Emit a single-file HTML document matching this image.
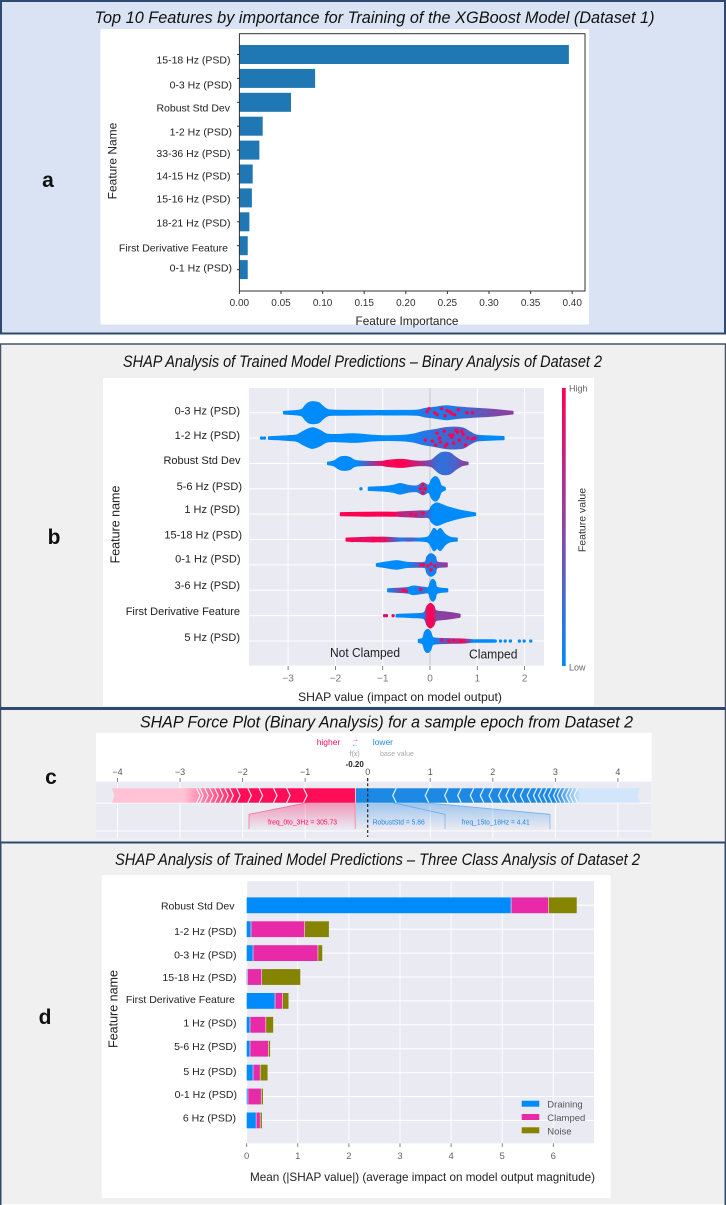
<!DOCTYPE html>
<html>
<head>
<meta charset="utf-8">
<title>XGBoost feature importance and SHAP analysis</title>
<style>
html,body{margin:0;padding:0;background:#fff;}
svg{display:block;filter:blur(0.3px);}
text{font-family:"Liberation Sans",sans-serif;}
.title{font-style:italic;fill:#111;font-size:17px;}
.cat{font-size:10.5px;fill:#222;text-anchor:end;}
.catb{font-size:11px;fill:#222;text-anchor:end;}
.letter{font-weight:bold;font-size:21px;fill:#111;text-anchor:middle;}
.tick{font-size:10px;fill:#666;text-anchor:middle;}
</style>
</head>
<body>
<svg id="figure" xmlns="http://www.w3.org/2000/svg" width="726" height="1205" viewBox="0 0 726 1205">
  <defs>
    <linearGradient id="cbar" x1="0" y1="0" x2="0" y2="1">
      <stop offset="0" stop-color="#ff0051"/><stop offset="0.5" stop-color="#8a46a6"/><stop offset="1" stop-color="#008bfb"/>
    </linearGradient>
    <linearGradient id="pinkFade" x1="0" y1="0" x2="0" y2="1">
      <stop offset="0" stop-color="#ff0d57" stop-opacity="0.38"/><stop offset="1" stop-color="#ff0d57" stop-opacity="0"/>
    </linearGradient>
    <linearGradient id="blueFade" x1="0" y1="0" x2="0" y2="1">
      <stop offset="0" stop-color="#1e88e5" stop-opacity="0.38"/><stop offset="1" stop-color="#1e88e5" stop-opacity="0"/>
    </linearGradient>
  </defs>

  <!-- panel a -->
  <rect x="1" y="1" width="724" height="332.5" fill="#d9e3f4" stroke="#2f4a70" stroke-width="2"/>
  <text class="title" x="94.5" y="23" textLength="560" lengthAdjust="spacingAndGlyphs">Top 10 Features by importance for Training of the XGBoost Model (Dataset 1)</text>
  <text class="letter" x="48" y="187">a</text>
  <rect x="100.5" y="29" width="488.5" height="295.5" fill="#fff"/>
  <g id="chartA"></g>
  <rect x="239.4" y="33.7" width="345.6" height="257.3" fill="none" stroke="#333" stroke-width="1"/>
  <g>
    <text class="cat" x="230.5" y="63.5">15-18 Hz (PSD)</text>
    <text class="cat" x="232" y="88.5">0-3 Hz (PSD)</text>
    <text class="cat" x="230" y="111.5">Robust Std Dev</text>
    <text class="cat" x="232" y="135.5">1-2 Hz (PSD)</text>
    <text class="cat" x="230.5" y="157">33-36 Hz (PSD)</text>
    <text class="cat" x="230.5" y="179.5">14-15 Hz (PSD)</text>
    <text class="cat" x="230.5" y="202.5">15-16 Hz (PSD)</text>
    <text class="cat" x="230.5" y="226.5">18-21 Hz (PSD)</text>
    <text class="cat" x="228" y="251.5">First Derivative Feature</text>
    <text class="cat" x="232" y="271.5">0-1 Hz (PSD)</text>
  </g>
  <text x="407" y="325" font-size="12" fill="#222" text-anchor="middle" textLength="103" lengthAdjust="spacingAndGlyphs">Feature Importance</text>
  <text transform="translate(116.5,161) rotate(-90)" font-size="12" fill="#222" text-anchor="middle">Feature Name</text>

  <!-- panel b -->
  <rect x="0.5" y="344" width="725" height="364" fill="#f0f0f0" stroke="#44546a" stroke-width="1.5"/>
  <text class="title" x="123" y="367" font-size="16" textLength="479" lengthAdjust="spacingAndGlyphs">SHAP Analysis of Trained Model Predictions – Binary Analysis of Dataset 2</text>
  <text class="letter" x="54" y="544">b</text>
  <rect x="103" y="378" width="491" height="328" fill="#fff"/>
  <rect x="249" y="388" width="295" height="277.5" fill="#eaeaf2"/>
  <g id="chartB"></g>
  <g>
    <text class="catb" x="240" y="414.5">0-3 Hz (PSD)</text>
    <text class="catb" x="240" y="439">1-2 Hz (PSD)</text>
    <text class="catb" x="240.5" y="464">Robust Std Dev</text>
    <text class="catb" x="242" y="490">5-6 Hz (PSD)</text>
    <text class="catb" x="240" y="513">1 Hz (PSD)</text>
    <text class="catb" x="242" y="538.5">15-18 Hz (PSD)</text>
    <text class="catb" x="240.5" y="562.5">0-1 Hz (PSD)</text>
    <text class="catb" x="240" y="589">3-6 Hz (PSD)</text>
    <text class="catb" x="240" y="615">First Derivative Feature</text>
    <text class="catb" x="240" y="641">5 Hz (PSD)</text>
  </g>
  <text x="330" y="657" font-size="12.5" fill="#222" textLength="70" lengthAdjust="spacingAndGlyphs">Not Clamped</text>
  <text x="469" y="658.5" font-size="12.5" fill="#222" textLength="48.5" lengthAdjust="spacingAndGlyphs">Clamped</text>
  <text x="400" y="701" font-size="12" fill="#222" text-anchor="middle" textLength="204" lengthAdjust="spacingAndGlyphs">SHAP value (impact on model output)</text>
  <text transform="translate(119.5,524.5) rotate(-90)" font-size="12.5" fill="#222" text-anchor="middle">Feature name</text>
  <rect x="562" y="388" width="3.7" height="278" fill="url(#cbar)"/>
  <text x="569" y="391.5" font-size="9" fill="#666">High</text>
  <text x="569" y="670.5" font-size="9" fill="#666">Low</text>
  <text transform="translate(585.5,520) rotate(-90)" font-size="10.5" fill="#333" text-anchor="middle">Feature value</text>

  <!-- panel c -->
  <rect x="0.5" y="708.5" width="725" height="134" fill="#f0f0f0" stroke="#44546a" stroke-width="1.5"/>
  <rect x="0" y="707" width="726" height="3" fill="#2f4a70"/>
  <text class="title" x="140" y="727.5" textLength="493" lengthAdjust="spacingAndGlyphs" font-size="16.5">SHAP Force Plot (Binary Analysis) for a sample epoch from Dataset 2</text>
  <text class="letter" x="51" y="784">c</text>
  <rect x="96" y="732.7" width="555.7" height="105.3" fill="#fff"/>
  <rect x="96" y="781.7" width="555.7" height="56.3" fill="#eaeaf2"/>
  <g id="chartC"></g>
  <text x="316.7" y="745" font-size="8.5" fill="#ff0d57">higher</text>
  <text x="355" y="741.5" font-size="7" fill="#ff0d57" text-anchor="middle">→</text>
  <text x="355" y="746.5" font-size="7" fill="#1e88e5" text-anchor="middle">←</text>
  <text x="372.7" y="745" font-size="8.5" fill="#1e88e5">lower</text>
  <text x="354.7" y="756" font-size="7" fill="#999" text-anchor="middle">f(x)</text>
  <text x="380" y="756" font-size="7" fill="#aaa">base value</text>
  <text x="354.7" y="767" font-size="8" font-weight="bold" fill="#222" text-anchor="middle">-0.20</text>
  <text x="268" y="824.5" font-size="7.2" fill="#ff0d57" textLength="69" lengthAdjust="spacingAndGlyphs">freq_0to_3Hz = 305.73</text>
  <text x="372.7" y="824.5" font-size="7.2" fill="#1e88e5" textLength="52" lengthAdjust="spacingAndGlyphs">RobustStd = 5.86</text>
  <text x="461.7" y="824.5" font-size="7.2" fill="#1e88e5" textLength="68" lengthAdjust="spacingAndGlyphs">freq_15to_18Hz = 4.41</text>

  <!-- panel d -->
  <rect x="0.5" y="843" width="725" height="361" fill="#f0f0f0"/>
  <rect x="0" y="841.5" width="726" height="2" fill="#2f4a70"/>
  <rect x="0" y="843" width="1.5" height="362" fill="#2f4a70"/>
  <rect x="724.5" y="843" width="1.5" height="362" fill="#2f4a70"/>
  <text class="title" x="115" y="865" textLength="525" lengthAdjust="spacingAndGlyphs" font-size="16.5">SHAP Analysis of Trained Model Predictions – Three Class Analysis of Dataset 2</text>
  <text class="letter" x="45" y="1024">d</text>
  <rect x="101.7" y="875" width="509" height="323" fill="#fff"/>
  <rect x="246.7" y="881" width="347.3" height="262.3" fill="#eaeaf2"/>
  <g id="chartD"></g>
  <g>
    <text class="cat" x="234.5" y="909.5">Robust Std Dev</text>
    <text class="cat" x="236.5" y="935">1-2 Hz (PSD)</text>
    <text class="cat" x="236.5" y="958.5">0-3 Hz (PSD)</text>
    <text class="cat" x="236.5" y="981">15-18 Hz (PSD)</text>
    <text class="cat" x="235" y="1003">First Derivative Feature</text>
    <text class="cat" x="236.5" y="1026.5">1 Hz (PSD)</text>
    <text class="cat" x="236.5" y="1050">5-6 Hz (PSD)</text>
    <text class="cat" x="236.5" y="1075">5 Hz (PSD)</text>
    <text class="cat" x="237" y="1098">0-1 Hz (PSD)</text>
    <text class="cat" x="236" y="1121.5">6 Hz (PSD)</text>
  </g>
  <text x="250" y="1181" font-size="12" fill="#222" textLength="345" lengthAdjust="spacingAndGlyphs">Mean (|SHAP value|) (average impact on model output magnitude)</text>
  <text transform="translate(117.5,1009) rotate(-90)" font-size="12.5" fill="#222" text-anchor="middle">Feature name</text>
  <g>
    <rect x="521.7" y="1100.7" width="17.6" height="6" fill="#008bfb"/>
    <text x="547.3" y="1107.5" font-size="9.5" fill="#555">Draining</text>
    <rect x="521.7" y="1114" width="17.6" height="6" fill="#e82aa9"/>
    <text x="547.3" y="1121" font-size="9.5" fill="#555">Clamped</text>
    <rect x="521.7" y="1127.3" width="17.6" height="6" fill="#848400"/>
    <text x="547.3" y="1134.5" font-size="9.5" fill="#555">Noise</text>
  </g>
</svg>

<script>
/* ---------- chart a data ---------- */
const importanceCategories = ['15-18 Hz','0-3 Hz','Robust Std Dev','1-2 Hz','33-36 Hz','14-15 Hz','15-16 Hz','18-21 Hz','First Derivative','0-1 Hz'];
const importanceValues = [0.396,0.091,0.062,0.028,0.024,0.016,0.015,0.012,0.010,0.010];
const importanceTicks = [0,0.05,0.10,0.15,0.20,0.25,0.30,0.35,0.40];
const importanceTickLabels = ['0.00','0.05','0.10','0.15','0.20','0.25','0.30','0.35','0.40'];

/* ---------- chart b data ---------- */
const swarmCategories = ['0-3 Hz','1-2 Hz','Robust Std Dev','5-6 Hz','1 Hz','15-18 Hz','0-1 Hz','3-6 Hz','First Derivative','5 Hz'];
const swarmTicks = [-3,-2,-1,0,1,2];
const swarmTickLabels = ['−3','−2','−1','0','1','2'];
const swarmShap = [
 [-3.09,-3.02,-2.81,-2.70,-2.63,-2.56,-2.46,-2.35,-2.28,-2.18,-2.04,-1.33,-0.63,-0.27,-0.10,0.08,0.22,0.36,0.54,0.78,1.13,1.42,1.75],
 [-3.41,-3.02,-2.81,-2.67,-2.49,-2.32,-2.18,-1.96,-1.61,-1.12,-0.63,-0.35,-0.17,0.08,0.36,0.68,0.85,0.99,1.2,1.56],
 [-2.16,-2.04,-1.90,-1.79,-1.69,-1.54,-1.05,-0.91,-0.59,-0.27,0.01,0.11,0.22,0.32,0.43,0.54,0.68,0.8],
 [-1.30,-0.98,-0.77,-0.63,-0.45,-0.27,-0.15,-0.03,0.04,0.11,0.18,0.23,0.32],
 [-1.89,-1.33,-0.77,-0.63,-0.20,-0.03,0.04,0.12,0.18,0.36,0.64,0.96],
 [-1.77,-1.33,-1.12,-0.91,-0.63,-0.42,-0.2,-0.03,0.08,0.15,0.22,0.32,0.43,0.57],
 [-1.13,-0.91,-0.7,-0.49,-0.27,-0.1,-0.06,0.02,0.11,0.15,0.36],
 [-0.89,-0.59,-0.45,-0.35,-0.13,-0.03,0.01,0.06,0.11,0.15,0.37],
 [-0.71,-0.35,-0.13,-0.06,0.01,0.08,0.13,0.36,0.63],
 [-0.24,-0.15,-0.11,-0.05,0.01,0.06,0.22,0.5,0.71,0.92,1.35]
];
const swarmDensity = [
 [1,1.3,2,3.3,7.3,10,10.7,9.7,6.7,3.3,2.3,2,2,2.3,4,5,6,6.7,5.7,4.7,3.7,2.7,1],
 [1,2,3,6.7,10,7.3,3.7,3.3,4,2.3,2.3,3.7,6,8,10.3,10,5.7,2.7,2,1.3],
 [1,2,6,6.7,5.7,2.3,1.7,2.7,3.7,2,2.7,6,10,11,10,6,2,1],
 [1.3,2,3.3,5,3,2.7,5.7,3.3,9.3,12,9.3,3.3,1],
 [1.3,1.7,1.7,2,3,3.3,8,10.7,10.7,7.3,3.7,1],
 [1.3,2,2,2,1.3,1.3,1.3,2.7,10.7,8.3,10.7,5,2,1.3],
 [1,2.7,4,2.3,2,2.7,8,11,8,2.7,1.7],
 [1.3,2,2.7,4,2.7,2.7,8,10.7,8,2.7,1.3],
 [1,1.7,2.7,9.3,12,9.3,4.7,3.3,1.3],
 [1.3,2.7,8.7,11.3,8.7,3.3,2.3,2,1.7,1,1]
];
const swarmFeatureValue = [
 [0,0,0,0,0,0,0,0,0,0,0,0,0,0.05,0.15,0.12,0.1,0.1,0.15,0.25,0.4,0.5,0.55],
 [0,0,0,0,0,0,0,0,0,0,0,0.05,0.12,0.2,0.25,0.3,0.3,0.15,0,0],
 [0,0,0,0,0,0,0.85,0.95,1,0.75,0.45,0.25,0.2,0.2,0.25,0.3,0.5,0.5],
 [0,0,0,0,0.1,0.1,0.5,0,0,0,0,0,0],
 [1,1,1,0.75,0.55,0.25,0,0,0,0,0,0],
 [1,0.85,1,0.7,0.1,0.35,0,0,0,0,0,0,0,0],
 [0,0,0,0,0.3,0.2,0.1,0.05,0.1,0.4,0.6],
 [0,0.6,0,0,0.2,0,0,0,0,0,0],
 [0,0,0.1,0.9,1,0.9,0.5,0.55,0.55],
 [0,0,0,0,0,0,0.25,0.6,0.85,0,0]
];
const hotShap = [
 [-0.06,0.15,0.32,0.36,0.46,0.6,0.78,-0.02,0.25,0.1,0.42,0.52,0.9],
 [0.05,0.15,0.22,0.3,0.36,0.42,0.5,0.55,0.62,0.7,0.75,0.8,0.9,0.32,0.46,0.58,0.12,-0.1,0.67,0.95,0.2,0.48],
 [-0.85,-0.7,-0.6,-0.5],
 [-0.2,-0.15,-0.1,-0.15],
 [-0.4,-0.3,-0.15],
 [-1.75,-1.65,-1.35,-1.2,-1.1,-0.95],
 [-0.2,-0.14,-0.05,0.02,0.1,0.02],
 [-0.55,-0.5,-0.2],
 [0,0,0,0.05],
 [0.25,0.4,0.5,0.65]
];
const hotSpread = [
 [-1,2,3,-2,1,-3,0,-4,-4,0,-1,2,0],
 [3,-5,4,-7,6,-3,5,-8,2,-4,7,0,1,8,-1,-6,7,2,-7,0,0,-3],
 [1,-1,2,0],
 [0,4,0,-4],
 [0,1,-1],
 [0,1,0,1,-1,0],
 [0,0,1,5,1,-1],
 [0,1,-1],
 [6,-6,0,3],
 [-1,0,-1,0]
];
const outlierShap = [[],[-3.56,-3.5],[],[-1.46],[],[],[],[],[-0.96,-0.92,-0.78],[1.38,1.49,1.59,1.7,1.89,1.99,2.13]];
const outlierValue = [[],[0,0],[],[0],[],[],[],[],[0.85,0.85,0.85],[0,0,0,0,0,0,0]];

/* ---------- chart c data ---------- */
const forceTicks = [-4,-3,-2,-1,0,1,2,3,4];
const forceTickLabels = ['−4','−3','−2','−1','0','1','2','3','4'];
const forceOutput = -0.20;
const forceBase = 0;
const forceLowEnd = -4.09;
const forceHighEnd = 4.355;
const forceHigherBoundaries = [-0.97,-1.24,-1.45,-1.68,-1.86,-2.04,-2.15,-2.23,-2.31,-2.39,-2.47,-2.55,-2.63,-2.68];
const forceLowerBoundaries = [0.40,0.92,1.23,1.44,1.64,1.80,1.94,2.09,2.21,2.32,2.44,2.55,2.65,2.73,2.81,2.89,2.97,3.03,3.10,3.17,3.23,3.30];

/* ---------- chart d data ---------- */
const classCategories = ['Robust Std Dev','1-2 Hz','0-3 Hz','15-18 Hz','First Derivative','1 Hz','5-6 Hz','5 Hz','0-1 Hz','6 Hz'];
const classNames = ['draining','clamped','noise'];
const drainingValues = [5.18,0.09,0.13,0.02,0.56,0.07,0.07,0.13,0.03,0.19];
const clampedValues = [0.73,1.05,1.27,0.28,0.15,0.31,0.36,0.14,0.26,0.08];
const noiseValues = [0.56,0.48,0.09,0.76,0.12,0.15,0.04,0.15,0.04,0.04];
const classTicks = [0,1,2,3,4,5,6];
const classTickLabels = ['0','1','2','3','4','5','6'];

/* ---------- helpers ---------- */
const NS = 'http://www.w3.org/2000/svg';
function make(tag, attrs, parent){
  const el = document.createElementNS(NS, tag);
  for (const k in attrs) el.setAttribute(k, attrs[k]);
  parent.appendChild(el);
  return el;
}
function slug(s){ return s.toLowerCase().replace(/[^a-z0-9]+/g,'-'); }
function featureColor(v){
  const a=[0,139,251], b=[255,0,81];
  return 'rgb('+a.map((c,i)=>Math.round(c+(b[i]-c)*v)).join(',')+')';
}
/* smooth outline through a list of [x,y] vertices */
function smoothSegments(p, start){
  let d = start ? 'M'+p[0][0].toFixed(1)+' '+p[0][1].toFixed(1) : 'L'+p[0][0].toFixed(1)+' '+p[0][1].toFixed(1);
  for (let i=0;i<p.length-1;i++){
    const p0=p[Math.max(i-1,0)],p1=p[i],p2=p[i+1],p3=p[Math.min(i+2,p.length-1)];
    const c1x=p1[0]+(p2[0]-p0[0])/6, c1y=p1[1]+(p2[1]-p0[1])/6;
    const c2x=p2[0]-(p3[0]-p1[0])/6, c2y=p2[1]-(p3[1]-p1[1])/6;
    d+=' C'+c1x.toFixed(1)+' '+c1y.toFixed(1)+' '+c2x.toFixed(1)+' '+c2y.toFixed(1)+' '+p2[0].toFixed(1)+' '+p2[1].toFixed(1);
  }
  return d;
}

/* axis functions */
const xA = v => 239.4 + v * 832;
const yA = i => 54.5 + i * 23.9;
const xB = v => 430 + v * 47.3;
const yB = i => 412.7 + i * 25.37;
const xC = v => 367.7 + v * 62.55;
const xD = v => 246.7 + v * 51.1;
const yD = i => 905.3 + i * 23.9;

/* ---------- draw chart a ---------- */
(function(){
  const g = document.getElementById('chartA');
  importanceValues.forEach((v,i)=>{
    const bar = make('rect',{x:xA(0),y:yA(i)-9.5,width:xA(v)-xA(0),height:19,fill:'#1f77b4'},g);
    
    
    const tick = make('line',{x1:xA(0)-2.5,x2:xA(0),y1:yA(i),y2:yA(i),stroke:'#333','stroke-width':1},g);
    
    
  });
  importanceTicks.forEach((t,i)=>{
    const tick = make('line',{x1:xA(t),x2:xA(t),y1:291,y2:294,stroke:'#333','stroke-width':1},g);
    
    
    const lab = make('text',{x:xA(t),y:306,'text-anchor':'middle','font-size':10,fill:'#333'},g);
    
    
    lab.textContent = importanceTickLabels[i];
  });
})();

/* ---------- draw chart b ---------- */
(function(){
  const g = document.getElementById('chartB');
  const defs = document.querySelector('defs');
  swarmTicks.forEach(t=>{
    const line = make('line',{x1:xB(t),x2:xB(t),y1:388,y2:665.5,stroke:t===0?'#c8c8c8':'#fff','stroke-width':1},g);
    
    
  });
  swarmCategories.forEach((c,i)=>{
    const line = make('line',{x1:249,x2:544,y1:yB(i),y2:yB(i),stroke:'#fff','stroke-width':1},g);
    
    
  });
  swarmCategories.forEach((c,i)=>{
    const xs = swarmShap[i], ds = swarmDensity[i], vs = swarmFeatureValue[i];
    const lo = xs[0], hi = xs[xs.length-1];
    const grad = make('linearGradient',{id:'sw'+i,gradientUnits:'userSpaceOnUse',x1:xB(lo),x2:xB(hi),y1:0,y2:0},defs);
    xs.forEach((x,k)=>{
      make('stop',{offset:(x-lo)/(hi-lo),'stop-color':featureColor(vs[k])},grad);
    });
    const top = xs.map((x,k)=>[xB(x),yB(i)-ds[k]]);
    const bottom = xs.map((x,k)=>[xB(x),yB(i)+ds[k]]).reverse();
    const d = smoothSegments(top,true)+' '+smoothSegments(bottom,false)+' Z';
    const violin = make('path',{d:d,fill:'url(#sw'+i+')',stroke:'url(#sw'+i+')','stroke-width':1.6,'stroke-linejoin':'round'},g);
    
    
    hotShap[i].forEach((s,k)=>{
      const dot = make('circle',{cx:xB(s),cy:yB(i)+hotSpread[i][k],r:1.7,fill:featureColor(1)},g);
      
      
    });
    outlierShap[i].forEach((s,k)=>{
      const dot = make('circle',{cx:xB(s),cy:yB(i),r:1.7,fill:featureColor(outlierValue[i][k])},g);
      
      
    });
  });
  swarmTicks.forEach((t,i)=>{
    const tick = make('line',{x1:xB(t),x2:xB(t),y1:666,y2:670,stroke:'#666','stroke-width':0.8},g);
    
    
    const lab = make('text',{x:xB(t),y:681.5,'text-anchor':'middle','font-size':10,fill:'#777'},g);
    
    
    lab.textContent = swarmTickLabels[i];
  });
})();

/* ---------- draw chart c ---------- */
(function(){
  const g = document.getElementById('chartC');
  const defs = document.querySelector('defs');
  const top = 788.3, bot = 802.7, mid = (top+bot)/2, lab = 814.3, end = 829;
  forceTicks.forEach(t=>{
    const line = make('line',{x1:xC(t),x2:xC(t),y1:781.7,y2:838,stroke:'#fff','stroke-width':1},g);
    
    
  });
  [803,831].forEach(y=>{
    const line = make('line',{x1:96,x2:651.7,y1:y,y2:y,stroke:'#fff','stroke-width':1},g);
    
    
  });
  const xo = xC(forceOutput), xl = xC(forceLowEnd), xh = xC(forceHighEnd);
  const rg = make('linearGradient',{id:'redBar',gradientUnits:'userSpaceOnUse',x1:xl,x2:xo,y1:0,y2:0},defs);
  make('stop',{offset:0,'stop-color':'#ffc3d5'},rg);
  make('stop',{offset:(xC(-2.95)-xl)/(xo-xl),'stop-color':'#ffc3d5'},rg);
  make('stop',{offset:(xC(-2.05)-xl)/(xo-xl),'stop-color':'#ff0d57'},rg);
  make('stop',{offset:1,'stop-color':'#ff0d57'},rg);
  const bg = make('linearGradient',{id:'blueBar',gradientUnits:'userSpaceOnUse',x1:xo,x2:xh,y1:0,y2:0},defs);
  make('stop',{offset:0,'stop-color':'#1e88e5'},bg);
  make('stop',{offset:(xC(3.0)-xo)/(xh-xo),'stop-color':'#1e88e5'},bg);
  make('stop',{offset:(xC(3.4)-xo)/(xh-xo),'stop-color':'#d1e6fa'},bg);
  make('stop',{offset:1,'stop-color':'#d1e6fa'},bg);
  const red = make('polygon',{points:[xl,top,xo,top,xo,bot,xl,bot,xl+2.5,mid].join(' '),fill:'url(#redBar)'},g);
  
  
  const blue = make('polygon',{points:[xo+0.8,top,xh,top,xh-2.5,mid,xh,bot,xo+0.8,bot].join(' '),fill:'url(#blueBar)'},g);
  
  
  forceHigherBoundaries.forEach(b=>{
    const x = xC(b);
    const c = make('polyline',{points:[x-3.5,top,x,mid,x-3.5,bot].join(' '),fill:'none',stroke:'#fff','stroke-width':1.2,'stroke-opacity':0.9},g);
    
    
  });
  forceLowerBoundaries.forEach(b=>{
    const x = xC(b);
    const c = make('polyline',{points:[x+3.5,top,x,mid,x+3.5,bot].join(' '),fill:'none',stroke:'#fff','stroke-width':1.2,'stroke-opacity':0.9},g);
    
    
  });
  const p1 = make('polygon',{points:[xC(-0.97),bot,xo,bot,xo,end,249,end,249,lab].join(' '),fill:'url(#pinkFade)'},g);
  
  
  const p1l = make('polyline',{points:[xC(-0.97),bot,249,lab,249,end].join(' '),fill:'none',stroke:'#ff0d57','stroke-opacity':0.5,'stroke-width':0.8},g);
  
  
  const p1r = make('line',{x1:xo,x2:xo,y1:bot,y2:end,stroke:'#ff0d57','stroke-opacity':0.5,'stroke-width':0.8},g);
  
  
  const p2 = make('polygon',{points:[xo+0.8,bot,xC(0.40),bot,445,lab,445,end,xo+0.8,end].join(' '),fill:'url(#blueFade)'},g);
  
  
  const p2l = make('polyline',{points:[xC(0.40),bot,445,lab,445,end].join(' '),fill:'none',stroke:'#1e88e5','stroke-opacity':0.5,'stroke-width':0.8},g);
  
  
  const p3 = make('polygon',{points:[xC(0.40),bot,xC(0.92),bot,550,lab,550,end,445,end,445,lab].join(' '),fill:'url(#blueFade)'},g);
  
  
  const p3l = make('polyline',{points:[xC(0.92),bot,550,lab,550,end].join(' '),fill:'none',stroke:'#1e88e5','stroke-opacity':0.5,'stroke-width':0.8},g);
  
  
  forceTicks.forEach((t,i)=>{
    const tick = make('line',{x1:xC(t),x2:xC(t),y1:778,y2:781.7,stroke:'#666','stroke-width':0.8},g);
    
    
    const l = make('text',{x:xC(t),y:775,'text-anchor':'middle','font-size':9,fill:'#555'},g);
    
    
    l.textContent = forceTickLabels[i];
  });
  const base = make('line',{x1:xC(forceBase),x2:xC(forceBase),y1:778,y2:837,stroke:'#222','stroke-width':1.2,'stroke-dasharray':'3 2.2'},g);
  
  
})();

/* ---------- draw chart d ---------- */
(function(){
  const g = document.getElementById('chartD');
  classTicks.forEach(t=>{
    const line = make('line',{x1:xD(t),x2:xD(t),y1:881,y2:1143.3,stroke:'#fff','stroke-width':1},g);
    
    
  });
  classCategories.forEach((c,i)=>{
    const line = make('line',{x1:246.7,x2:594,y1:yD(i),y2:yD(i),stroke:'#fff','stroke-width':1},g);
    
    
  });
  const series = [drainingValues, clampedValues, noiseValues];
  const colors = ['#008bfb','#e82aa9','#848400'];
  classCategories.forEach((c,i)=>{
    let sum = 0;
    series.forEach((vals,s)=>{
      const v = vals[i];
      const bar = make('rect',{x:xD(sum),y:yD(i)-7.9,width:Math.max(xD(sum+v)-xD(sum)-0.6,0.2),height:15.8,fill:colors[s]},g);
      
      
      sum += v;
    });
  });
  classTicks.forEach((t,i)=>{
    const tick = make('line',{x1:xD(t),x2:xD(t),y1:1143.3,y2:1147,stroke:'#666','stroke-width':0.8},g);
    
    
    const l = make('text',{x:xD(t),y:1158.8,'text-anchor':'middle','font-size':9.5,fill:'#666'},g);
    
    
    l.textContent = classTickLabels[i];
  });
})();
</script>
</body>
</html>
